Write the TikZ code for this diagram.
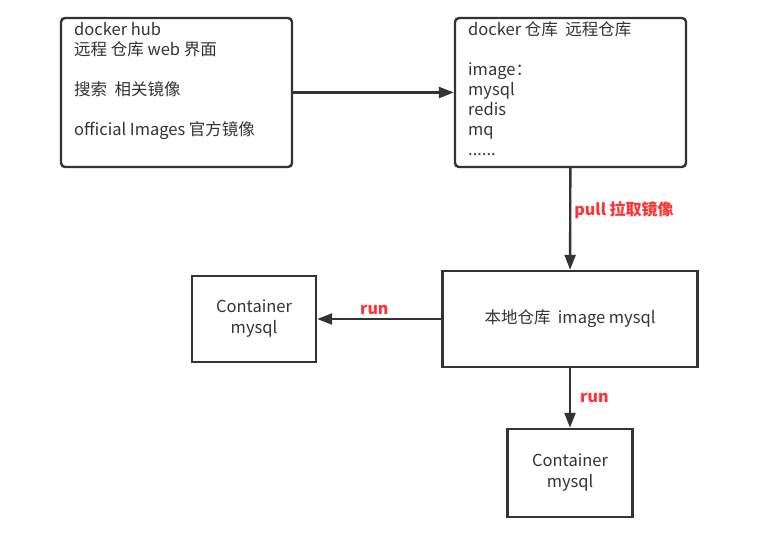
\documentclass[tikz,border=0pt]{standalone}
\usepackage{fontspec}
\setmainfont{Noto Sans CJK SC}
\usetikzlibrary{arrows.meta,positioning}
\definecolor{linegray}{HTML}{333333}
\definecolor{runred}{HTML}{FF3333}
\tikzset{
  hubbox/.style={draw=linegray, line width=2.4pt, rounded corners=4pt,
    minimum width=231pt, minimum height=149pt},
  plainbox/.style={draw=linegray, line width=2.4pt,
    font=\fontsize{16.5}{21}\selectfont, text=linegray, align=center},
  boxtext/.style={anchor=north west, inner sep=0pt, align=left,
    font=\fontsize{16.5}{20}\selectfont, text=linegray},
  flow/.style={-{Triangle[length=15pt, width=11pt]}, line width=2.4pt, linegray},
  flowlabel/.style={font=\fontsize{16}{18}\selectfont\bfseries, text=runred},
}

\begin{document}
\begin{tikzpicture}[x=1pt, y=-1pt]
\useasboundingbox (0,0) rectangle (757,550);

%% remote side
\node[hubbox] (hub)  at (176.5, 92.5) {};
\node[hubbox] (repo) at (570.5, 92.5) {};
\node[boxtext] (hub_txt) at (74, 22)
  {docker hub\\远程 仓库 web 界面\\[20pt]搜索\ \ 相关镜像\\[20pt]official Images 官方镜像};
\node[boxtext] (repo_txt) at (468, 21)
  {docker 仓库\ \ 远程仓库\\[20pt]image：\\mysql\\redis\\mq\\......};

%% local side
\node[plainbox, minimum width=255pt, minimum height=96pt] (local) at (570, 319)
  {\raisebox{-2pt}{本地仓库\ \ image mysql}};
\node[plainbox, minimum width=124pt, minimum height=86pt] (ctr_a) at (254, 319)
  {Container\\mysql};
\node[plainbox, minimum width=125pt, minimum height=88pt] (ctr_b) at (570, 473)
  {Container\\mysql};

\draw[flow] (hub) -- (repo);
\draw[flow] (repo) -- node[flowlabel, right, pos=0.41, inner sep=3pt]{pull 拉取镜像} (local);
\draw[flow] (local) -- node[flowlabel, above, pos=0.54]{run} (ctr_a);
\draw[flow] (local) -- node[flowlabel, right, pos=0.5, inner sep=9pt]{run} (ctr_b);
\end{tikzpicture}
\end{document}
